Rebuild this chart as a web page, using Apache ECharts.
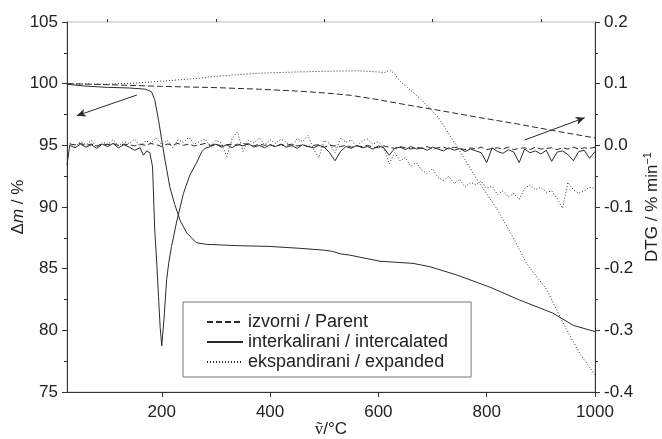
<!DOCTYPE html>
<html>
<head>
<meta charset="utf-8">
<script src="https://cdn.jsdelivr.net/npm/echarts@6/dist/echarts.min.js"></script>
<style>
    html, body {margin: 0; padding: 0; background: #fff;}
    #chart {width: 662px; height: 439px;}
</style>
</head>
<body>
<div id="chart"></div>
<script>
//TG curves (left axis, %)
var tgParentT = [25, 100, 200, 300, 380, 450, 500, 550, 600, 650, 710, 787, 861, 922, 1000];
var tgParent = [100, 99.92, 99.78, 99.68, 99.55, 99.4, 99.25, 99.05, 98.7, 98.3, 97.85, 97.25, 96.7, 96.2, 95.6];

var tgInterT = [25, 60, 100, 140, 170, 181, 187, 194, 200, 206, 215, 224, 234, 246, 264, 283, 344, 400, 455, 500, 515, 530, 547, 603, 664, 695, 744, 806, 861, 922, 960, 1000];
var tgInter = [99.95, 99.8, 99.7, 99.65, 99.55, 99.35, 98.7, 97.05, 95.4, 93.8, 91.6, 90.2, 88.9, 87.9, 87.1, 86.97, 86.86, 86.8, 86.65, 86.5, 86.4, 86.2, 86.1, 85.6, 85.43, 85.16, 84.5, 83.5, 82.45, 81.4, 80.4, 79.9];

var tgExpT = [25, 100, 150, 200, 270, 300, 380, 450, 500, 560, 600, 612, 621, 630, 640, 677, 710, 744, 781, 818, 848, 874, 911, 941, 972, 1000];
var tgExp = [100.0, 99.95, 100.05, 100.2, 100.45, 100.6, 100.85, 100.95, 101.0, 101.05, 100.95, 100.9, 101.1, 100.8, 100.2, 98.8, 97.3, 95.0, 92.3, 89.9, 87.6, 85.4, 83.3, 80.6, 78.1, 76.4];

//DTG curves (right axis, %/min)
var dtgT = [30, 40, 50, 60, 70, 80, 90, 100, 110, 120,
    130, 140, 150, 160, 170, 180, 190, 200, 210, 220,
    230, 240, 250, 260, 270, 280, 290, 300, 310, 320,
    330, 340, 350, 360, 370, 380, 390, 400, 410, 420,
    430, 440, 450, 460, 470, 480, 490, 500, 510, 520,
    530, 540, 550, 560, 570, 580, 590, 600, 610, 620,
    630, 640, 650, 660, 670, 680, 690, 700, 710, 720,
    730, 740, 750, 760, 770, 780, 790, 800, 810, 820,
    830, 840, 850, 860, 870, 880, 890, 900, 910, 920,
    930, 940, 950, 960, 970, 980, 990, 1000];
var dtgParent = [0.002, 0.001, 0.003, 0.000, 0.002, -0.001, 0.002, 0.001, 0.003, 0.000,
    0.002, 0.001, -0.001, 0.002, 0.000, 0.003, 0.001, -0.002, 0.002, 0.001,
    0.003, 0.000, 0.002, -0.001, 0.001, 0.003, 0.000, 0.002, -0.001, 0.001,
    0.002, 0.000, 0.003, 0.001, -0.001, 0.002, 0.000, 0.001, -0.002, 0.001,
    0.000, 0.002, -0.001, 0.001, -0.002, 0.000, 0.001, -0.003, 0.000, -0.001,
    -0.002, 0.000, -0.003, -0.001, -0.002, 0.000, -0.003, -0.004, -0.001, -0.003,
    -0.005, -0.002, -0.004, -0.006, -0.003, -0.005, -0.002, -0.006, -0.004, -0.003,
    -0.006, -0.003, -0.005, -0.007, -0.004, -0.006, -0.003, -0.007, -0.005, -0.004,
    -0.006, -0.003, -0.007, -0.005, -0.004, -0.007, -0.003, -0.006, -0.005, -0.004,
    -0.007, -0.004, -0.006, -0.003, -0.006, -0.004, -0.005, -0.003];
var dtgExp = [0.004, -0.002, 0.006, 0.001, 0.008, -0.003, 0.005, 0.002, 0.009, -0.001,
    0.006, 0.003, 0.010, -0.002, 0.007, 0.004, 0.012, 0.001, 0.008, -0.004,
    0.009, 0.005, 0.013, 0.002, 0.006, 0.010, -0.002, 0.008, 0.004, -0.018,
    0.011, 0.022, -0.010, 0.008, 0.004, 0.012, 0.001, 0.009, 0.003, 0.010,
    0.005, -0.003, 0.011, 0.006, 0.016, -0.006, -0.020, 0.008, 0.003, -0.012,
    0.012, 0.005, 0.009, -0.002, 0.007, 0.010, 0.002, 0.006, -0.004, -0.030,
    -0.012, -0.025, -0.020, -0.034, -0.028, -0.040, -0.046, -0.038, -0.052, -0.057,
    -0.050, -0.062, -0.055, -0.068, -0.060, -0.064, -0.058, -0.070, -0.066, -0.080,
    -0.074, -0.084, -0.078, -0.088, -0.070, -0.064, -0.072, -0.068, -0.076, -0.074,
    -0.086, -0.102, -0.060, -0.072, -0.078, -0.074, -0.068, -0.070];

var dtgInterT = [25, 30, 40, 50, 60, 70, 80, 90, 100, 110, 120, 130, 140, 150, 160,
    166, 172, 178, 183, 187, 191, 194, 197, 200, 204, 209, 213, 218, 227, 234, 240, 252, 264, 274, 280,
    290, 300, 310, 320, 330, 340, 350, 360, 370, 380,
    390, 400, 410, 420, 430, 440, 450, 460, 470, 480,
    490, 500, 510, 520, 530, 540, 550, 560, 570, 580,
    590, 600, 610, 620, 630, 640, 650, 660, 670, 680,
    690, 700, 710, 720, 730, 740, 750, 760, 770, 780,
    790, 800, 810, 820, 830, 840, 850, 860, 870, 880,
    890, 900, 910, 920, 930, 940, 950, 960, 970, 980,
    990, 1000];
var dtgInter = [-0.032, 0.000, -0.004, 0.002, -0.003, 0.001, -0.005, 0.002, -0.002, 0.003, -0.004, 0.001, -0.003, -0.008, -0.004,
    -0.016, -0.009, -0.012, -0.035, -0.137, -0.195, -0.245, -0.295, -0.325, -0.283, -0.218, -0.19, -0.164, -0.126, -0.10, -0.078, -0.048, -0.029, -0.010, -0.005,
    -0.002, 0.002, -0.003, 0.001, -0.004, 0.002, -0.001, 0.003, -0.003, 0.000,
    -0.004, 0.001, -0.002, 0.002, -0.003, 0.000, -0.005, 0.001, -0.002, -0.004,
    0.000, -0.003, -0.012, -0.025, -0.010, -0.002, -0.005, 0.000, -0.004, -0.002,
    -0.006, -0.001, -0.004, -0.016, -0.005, -0.003, -0.007, -0.002, -0.006, -0.004,
    -0.008, -0.003, -0.006, -0.009, -0.004, -0.008, -0.005, -0.010, -0.006, -0.009,
    -0.012, -0.028, -0.004, -0.010, -0.013, -0.007, -0.011, -0.028, -0.006, -0.012,
    -0.009, -0.014, -0.008, -0.026, -0.011, -0.009, -0.015, -0.025, -0.010, -0.008,
    -0.021, -0.010];

var names = ['izvorni / Parent', 'interkalirani / intercalated', 'ekspandirani / expanded'];
var xLabels = [200, 400, 600, 800, 1000];
var xMinor = [100, 300, 500, 700, 900];
//arrows [from, to] in data units of left axis
var arrowLeft = [[154, 99.08], [43, 97.4]];
var arrowRight = [[870, 95.43], [981, 97.24]];

var pairs = function (t, v) {
    return t.map(function (x, i) { return [x, v[i]]; });
};

var font = 'Liberation Sans, Arial, sans-serif';
var ink = '#2a2a2a';
var dash = [6, 3];
var dot = [1, 2];

var lineSeries = function (name, t, v, yIdx, type) {
    return {
        name: name,
        type: 'line',
        yAxisIndex: yIdx,
        symbol: 'none',
        animation: false,
        data: pairs(t, v),
        lineStyle: {color: ink, width: 1, type: type},
        itemStyle: {color: ink}
    };
};

var chart = echarts.init(document.getElementById('chart'));
var tgParentSeries = lineSeries(names[0], tgParentT, tgParent, 0, dash);
tgParentSeries.markLine = {
    silent: true,
    animation: false,
    symbol: ['none', 'arrow'],
    symbolSize: [6, 9],
    label: {show: false},
    lineStyle: {color: ink, width: 1, type: 'solid'},
    data: [
        [{coord: arrowLeft[0], lineStyle: {curveness: 0.15}}, {coord: arrowLeft[1]}],
        [{coord: arrowRight[0], lineStyle: {curveness: 0.19}}, {coord: arrowRight[1]}]
    ]
};

chart.setOption({
    animation: false,
    grid: {
        left: 67, right: 67, top: 22, bottom: 47,
        outerBoundsMode: 'none', containLabel: false,
        show: true, borderColor: '#bbb', borderWidth: 1
    },
    legend: {
        data: names,
        orient: 'vertical',
        left: 183,
        top: 302,
        itemWidth: 36,
        itemHeight: 10,
        itemGap: 2,
        padding: [11, 23, 6, 23],
        borderColor: '#777',
        borderWidth: 1,
        backgroundColor: '#fff',
        itemStyle: {opacity: 0},
        textStyle: {fontFamily: font, fontSize: 18, color: '#222'}
    },
    xAxis: [
        {
            type: 'value', min: 25, max: 1000,
            axisLine: {show: true, onZero: false, lineStyle: {color: '#333'}},
            axisTick: {show: true, customValues: xLabels, length: 5, lineStyle: {color: '#333'}},
            axisLabel: {
                customValues: xLabels, fontFamily: font, fontSize: 17, color: '#222', margin: 12,
                formatter: function (v) { return String(v); }
            },
            splitLine: {show: false},
            name: '{v|v\u0303}/°C',
            nameLocation: 'middle',
            nameGap: 29,
            nameMoveOverlap: false,
            nameTextStyle: {
                fontFamily: font, fontSize: 17, color: '#222',
                rich: {v: {fontFamily: 'Liberation Serif, serif', fontSize: 17, color: '#222'}}
            }
        },
        {
            type: 'value', min: 25, max: 1000,
            axisLine: {show: false, onZero: false},
            axisTick: {show: true, customValues: xMinor, length: 3, lineStyle: {color: '#333'}},
            axisLabel: {show: false},
            splitLine: {show: false}
        }
    ],
    yAxis: [
        {
            type: 'value', min: 75, max: 105, interval: 5,
            axisLine: {show: true, onZero: false, lineStyle: {color: '#333'}},
            axisTick: {show: true, length: 5, lineStyle: {color: '#333'}},
            minorTick: {show: true, splitNumber: 2, length: 3, lineStyle: {color: '#333'}},
            axisLabel: {fontFamily: font, fontSize: 17, color: '#222', margin: 9},
            splitLine: {show: false},
            name: '\u0394{i|m} / %',
            nameLocation: 'middle',
            nameRotate: 90,
            nameGap: 40,
            nameMoveOverlap: false,
            nameTextStyle: {
                fontFamily: font, fontSize: 17, color: '#222',
                rich: {i: {fontFamily: font, fontStyle: 'italic', fontSize: 17, color: '#222'}}
            }
        },
        {
            type: 'value', min: -0.4, max: 0.2, interval: 0.1,
            position: 'right',
            axisLine: {show: true, onZero: false, lineStyle: {color: '#333'}},
            axisTick: {show: true, length: 5, lineStyle: {color: '#333'}},
            minorTick: {show: true, splitNumber: 2, length: 3, lineStyle: {color: '#333'}},
            axisLabel: {
                fontFamily: font, fontSize: 17, color: '#222', margin: 9,
                formatter: function (v) { return v.toFixed(1); }
            },
            splitLine: {show: false},
            name: 'DTG / % min{s|\u22121}',
            nameLocation: 'middle',
            nameRotate: 90,
            nameGap: 47,
            nameMoveOverlap: false,
            nameTextStyle: {
                fontFamily: font, fontSize: 17, color: '#222',
                rich: {s: {fontFamily: font, fontSize: 11, color: '#222', padding: [0, 0, 9, 0]}}
            }
        }
    ],
    series: [
        tgParentSeries,
        lineSeries(names[1], tgInterT, tgInter, 0, 'solid'),
        lineSeries(names[2], tgExpT, tgExp, 0, dot),
        lineSeries(names[0], dtgT, dtgParent, 1, dash),
        lineSeries(names[1], dtgInterT, dtgInter, 1, 'solid'),
        lineSeries(names[2], dtgT, dtgExp, 1, dot)
    ]
});
</script>
</body>
</html>
